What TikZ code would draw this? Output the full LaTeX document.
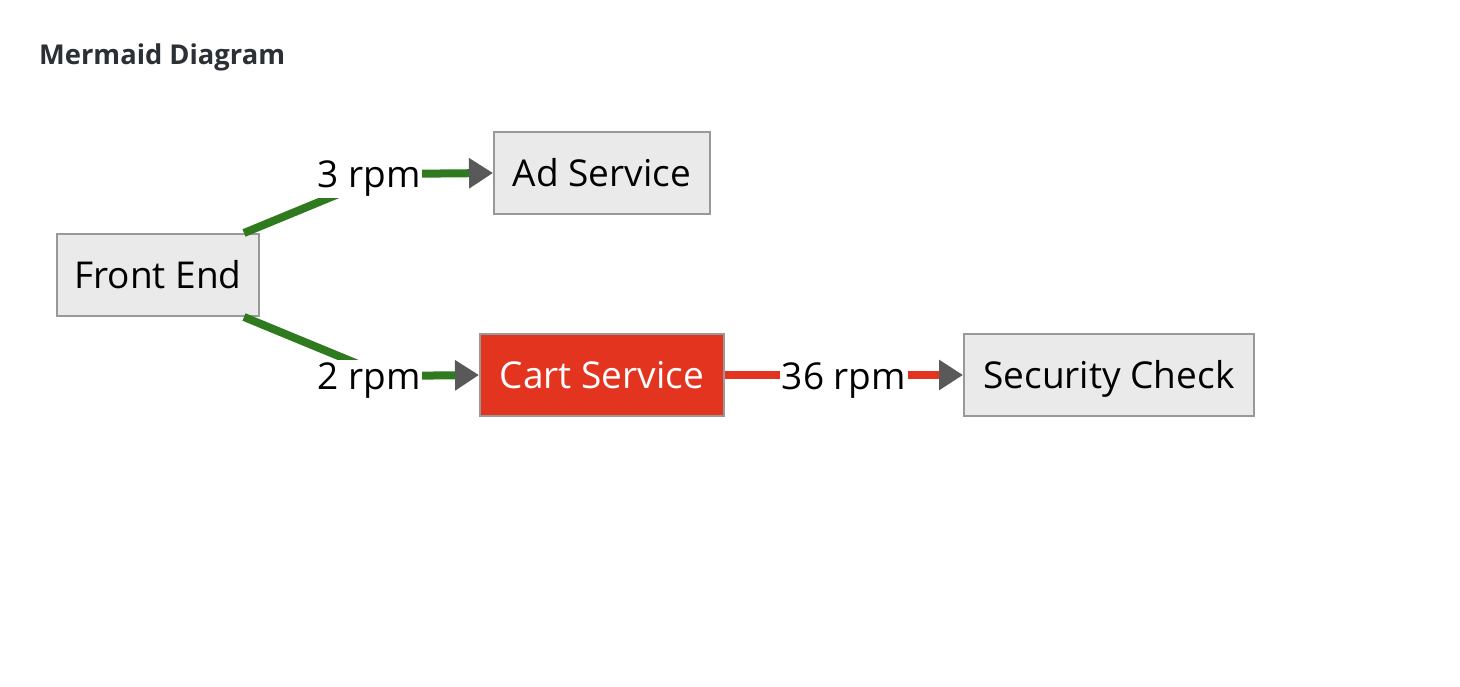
\documentclass[tikz,border=0pt]{standalone}
\usepackage{fontspec}
\setmainfont{Open Sans}
\usetikzlibrary{arrows.meta,calc}
\definecolor{nodefill}{HTML}{EAEAEA}
\definecolor{nodeborder}{HTML}{999999}
\definecolor{edgegreen}{HTML}{2F7A1F}
\definecolor{edgered}{HTML}{E2341F}
\definecolor{cartred}{HTML}{E2341F}
\definecolor{arrowgrey}{HTML}{595959}
\definecolor{titlecol}{HTML}{2B3036}
\tikzset{
  svc/.style={draw=nodeborder, line width=2pt, fill=nodefill, minimum height=82pt, inner sep=0pt, text height=27pt, text depth=0pt, font=\fontsize{37}{42}\selectfont, text=black},
  edge/.style={line width=8pt, -{Triangle[length=24pt,width=29pt,color=arrowgrey]}},
  lbl/.style={fill=white, inner sep=2pt, text height=27pt, text depth=9pt, font=\fontsize{37}{42}\selectfont, text=black},
}
\begin{document}
\begin{tikzpicture}[x=1pt,y=-1pt]
\useasboundingbox (0,0) rectangle (1460,686);
\fill[white] (0,0) rectangle (1460,686);
\node[anchor=west, font=\fontsize{27.3}{31}\selectfont\bfseries, text=titlecol, inner sep=0pt] (title) at (39,57) {Mermaid Diagram};

\node[svc, minimum width=202pt] (fe) at (158,275) {Front End};
\node[svc, minimum width=216pt] (ad) at (602,173) {Ad Service};
\node[svc, minimum width=244pt, fill=cartred, draw=nodeborder, text=white] (cart) at (602,375) {Cart Service};
\node[svc, minimum width=290pt] (sec) at (1109,375) {Security Check};

\coordinate (c1) at (387,174);
\coordinate (c2) at (387,376);
\draw[edge, draw=edgegreen] ($(fe.north east)+(-16,0)$) -- (c1) -- (ad.west);
\draw[edge, draw=edgegreen] ($(fe.south east)+(-16,0)$) -- (c2) -- (cart.west);
\draw[edge, draw=edgered] (cart.east) -- (sec.west);

\node[lbl] (l1) at (369,178) {3 rpm};
\node[lbl] (l2) at (369,380) {2 rpm};
\node[lbl] (l3) at (844,380) {36 rpm};
\end{tikzpicture}
\end{document}
